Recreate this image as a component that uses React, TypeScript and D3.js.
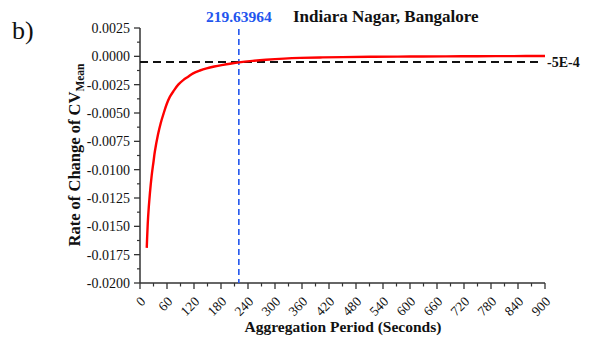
import React from "react";
import * as d3 from "d3";

const periods = [15, 18, 22, 26, 30, 33, 40, 46, 52, 59, 66, 74, 85, 96, 107, 118, 133, 148, 165, 185, 200, 220, 250, 280, 320, 356, 400, 450, 520, 600, 680, 750, 830, 900];
const rates = [-0.0169, -0.0142, -0.0121, -0.0105, -0.0093, -0.0084, -0.0069, -0.0059, -0.0051, -0.00425, -0.0036, -0.0031, -0.0025, -0.0021, -0.0018, -0.0015, -0.00125, -0.00106, -0.0009, -0.00075, -0.00065, -0.00053, -0.0004, -0.0003, -0.0002, -0.00014, -0.0001, -0.00007, -0.00004, -0.00002, -0.000005, 0.00001, 0.00002, 0.00003];
const xTicks = [0, 60, 120, 180, 240, 300, 360, 420, 480, 540, 600, 660, 720, 780, 840, 900];
const yTicks = [0.0025, 0, -0.0025, -0.005, -0.0075, -0.01, -0.0125, -0.015, -0.0175, -0.02];
const thresholdX = 219.63964;
const thresholdY = -0.0005;

export default function App() {
  const x = d3.scaleLinear().domain([0, 900]).range([140, 545]);
  const y = d3.scaleLinear().domain([-0.02, 0.0025]).range([283, 28]);
  const line = d3
    .line<number>()
    .x((_, i) => x(periods[i]))
    .y((d) => y(d))
    .curve(d3.curveCatmullRom.alpha(0.5));
  const xMinor = d3.range(30, 900, 60);
  const yMinor = d3.range(0, 9).map((i) => 0.00125 - i * 0.0025);
  const font = "'Liberation Serif', 'Times New Roman', serif";
  return (
    <svg
      width={591}
      height={342}
      style={{ position: "absolute", left: 0, top: 0, background: "#fff" }}
      fontFamily={font}
    >
      <text x={12} y={39} fontSize={26} fill="#111">b)</text>
      {/* axes */}
      <line x1={140} x2={140} y1={y(0.0025)} y2={y(-0.02)} stroke="#333" strokeWidth={1.5} />
      <line x1={140} x2={x(900)} y1={283} y2={283} stroke="#333" strokeWidth={1.5} />
      {yTicks.map((t) => (
        <g key={"yt" + t}>
          <line x1={134} x2={140} y1={y(t)} y2={y(t)} stroke="#333" strokeWidth={1.3} />
          <text x={130} y={y(t)} dy="0.35em" textAnchor="end" fontSize={14} fill="#111">
            {d3.format(".4f")(t).replace("−", "-")}
          </text>
        </g>
      ))}
      {yMinor.map((t) => (
        <line key={"ym" + t} x1={137} x2={140} y1={y(t)} y2={y(t)} stroke="#333" strokeWidth={1.2} />
      ))}
      {xTicks.map((t) => (
        <g key={"xt" + t}>
          <line x1={x(t)} x2={x(t)} y1={283} y2={289} stroke="#333" strokeWidth={1.3} />
          <text
            transform={`translate(${x(t) + 3},${299}) rotate(-45)`}
            dy="0.35em"
            textAnchor="end"
            fontSize={13.5}
            fill="#111"
          >
            {t}
          </text>
        </g>
      ))}
      {xMinor.map((t) => (
        <line key={"xm" + t} x1={x(t)} x2={x(t)} y1={283} y2={286.5} stroke="#333" strokeWidth={1.2} />
      ))}
      {/* reference lines */}
      <line x1={140} x2={538} y1={y(thresholdY)} y2={y(thresholdY)} stroke="#111" strokeWidth={2} strokeDasharray="8,5" />
      <line x1={x(thresholdX)} x2={x(thresholdX)} y1={29} y2={283} stroke="#2255ee" strokeWidth={1.6} strokeDasharray="6,4" />
      <path d={line(rates) || ""} fill="none" stroke="#ff0000" strokeWidth={2.4} />
      {/* labels */}
      <text x={x(thresholdX)} y={22} textAnchor="middle" fontSize={15.5} fontWeight="bold" fill="#2255ee">
        {thresholdX.toFixed(5)}
      </text>
      <text x={293} y={22} fontSize={17} fontWeight="bold" fill="#111">Indiara Nagar, Bangalore</text>
      <text x={547} y={y(thresholdY)} dy="0.35em" fontSize={14} fontWeight="bold" fill="#111">-5E-4</text>
      <text x={343} y={332} textAnchor="middle" fontSize={15.5} fontWeight="bold" fill="#111">
        Aggregation Period (Seconds)
      </text>
      <text transform="translate(80,155) rotate(-90)" textAnchor="middle" fontSize={16.5} fontWeight="bold" fill="#111">
        Rate of Change of CV
        <tspan fontSize={11.5} dy={4}>Mean</tspan>
      </text>
    </svg>
  );
}
